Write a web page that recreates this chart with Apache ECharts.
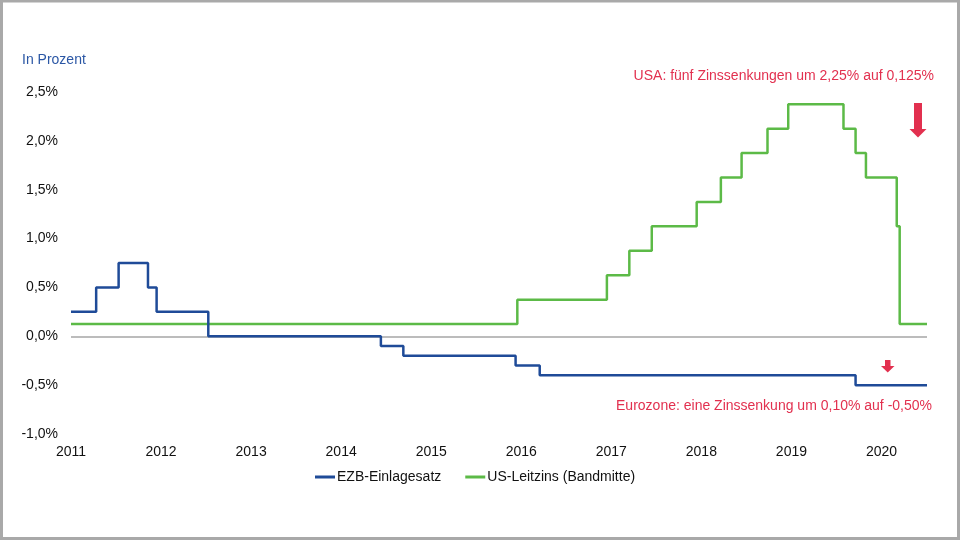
<!DOCTYPE html>
<html>
<head>
<meta charset="utf-8">
<script src="https://cdn.jsdelivr.net/npm/echarts@6/dist/echarts.min.js"></script>
<style>
html,body{margin:0;padding:0;background:#fff;}
#c{width:960px;height:540px;}
</style>
</head>
<body>
<div id="c"></div>
<script>
// ---- data ----
const ezbDates = ['2011-01-01','2011-04-13','2011-07-13','2011-11-09','2011-12-14','2012-07-11','2014-06-11','2014-09-10','2015-12-09','2016-03-16','2019-09-18','2020-07-04'];
const ezbValues = [0.25, 0.5, 0.75, 0.5, 0.25, 0, -0.1, -0.2, -0.3, -0.4, -0.5, -0.5];
const usDates = ['2011-01-01','2015-12-16','2016-12-14','2017-03-15','2017-06-14','2017-12-13','2018-03-21','2018-06-13','2018-09-26','2018-12-19','2019-07-31','2019-09-18','2019-10-30','2020-03-03','2020-03-15','2020-07-04'];
const usValues = [0.125, 0.375, 0.625, 0.875, 1.125, 1.375, 1.625, 1.875, 2.125, 2.375, 2.125, 1.875, 1.625, 1.125, 0.125, 0.125];
const seriesNames = ['EZB-Einlagesatz', 'US-Leitzins (Bandmitte)'];
const xStart = '2011-01-01';
const xEnd = '2020-07-04';
const yTicks = [-1.0, -0.5, 0.0, 0.5, 1.0, 1.5, 2.0, 2.5];
const axisTitle = 'In Prozent';
const noteUS = 'USA: fünf Zinssenkungen um 2,25% auf 0,125%';
const noteEZ = 'Eurozone: eine Zinssenkung um 0,10% auf -0,50%';

function toYear(d) {
  const p = d.split('-').map(Number);
  const s = Date.UTC(p[0], 0, 1), e = Date.UTC(p[0] + 1, 0, 1);
  return p[0] + (Date.UTC(p[0], p[1] - 1, p[2]) - s) / (e - s);
}
const ezbData = ezbDates.map((d, i) => [toYear(d), ezbValues[i]]);
const usData = usDates.map((d, i) => [toYear(d), usValues[i]]);

const FONT = '"Liberation Sans", Arial, sans-serif';
const RED = '#e2304f';
const TXT = '#111111';
const chart = echarts.init(document.getElementById('c'), null, {renderer: 'canvas'});
chart.setOption({
  animation: false,
  backgroundColor: '#fff',
  textStyle: {fontFamily: FONT},
  grid: {left: 71, right: 33, top: 92, bottom: 106, containLabel: false},
  xAxis: {
    type: 'value',
    min: toYear(xStart),
    max: toYear(xEnd),
    interval: 1,
    axisLine: {show: false},
    axisTick: {show: false},
    splitLine: {show: false},
    axisLabel: {
      color: TXT, fontSize: 14, fontFamily: FONT, margin: 11,
      formatter: v => (Math.abs(v - Math.round(v)) < 1e-9 ? String(Math.round(v)) : '')
    }
  },
  yAxis: {
    type: 'value',
    min: yTicks[0],
    max: yTicks[yTicks.length - 1],
    interval: 0.5,
    axisLine: {show: false},
    axisTick: {show: false},
    splitLine: {show: false},
    axisLabel: {
      color: TXT, fontSize: 14, fontFamily: FONT, margin: 13,
      formatter: v => v.toFixed(1).replace('.', ',') + '%'
    }
  },
  legend: {
    left: 310, top: 465,
    icon: 'rect', itemWidth: 20, itemHeight: 3, itemGap: 24,
    textStyle: {color: TXT, fontSize: 14, fontFamily: FONT, padding: [0, 0, 0, -3]},
    data: seriesNames
  },
  series: [
    {
      name: seriesNames[0], type: 'line', step: 'end', data: ezbData,
      showSymbol: false, symbol: 'none',
      lineStyle: {color: '#1f4b98', width: 2.5},
      itemStyle: {color: '#1f4b98'},
      z: 3,
      markLine: {
        silent: true, symbol: 'none', label: {show: false},
        lineStyle: {color: '#a6a6a6', width: 1.5, type: 'solid'},
        data: [{yAxis: 0}],
        z: 1
      }
    },
    {
      name: seriesNames[1], type: 'line', step: 'end', data: usData,
      showSymbol: false, symbol: 'none',
      lineStyle: {color: '#5cba47', width: 2.5},
      itemStyle: {color: '#5cba47'},
      z: 2
    }
  ],
  graphic: [
    {type: 'rect', shape: {x: 1.5, y: 1, width: 957, height: 537.5}, style: {fill: 'none', stroke: '#a9a9a9', lineWidth: 3}, silent: true},
    {type: 'text', left: 22, top: 53, style: {text: axisTitle, fill: '#2b57a5', font: '14px ' + FONT}},
    {type: 'text', x: 934, y: 76, style: {text: noteUS, fill: RED, font: '14px ' + FONT, align: 'right', verticalAlign: 'middle'}},
    {type: 'text', x: 932, y: 406, style: {text: noteEZ, fill: RED, font: '14px ' + FONT, align: 'right', verticalAlign: 'middle'}},
    {type: 'rect', shape: {x: 914, y: 103, width: 8, height: 27}, style: {fill: RED}},
    {type: 'polygon', shape: {points: [[909.5, 129], [926.5, 129], [918, 137.5]]}, style: {fill: RED}},
    {type: 'rect', shape: {x: 885, y: 360, width: 5.5, height: 6.5}, style: {fill: RED}},
    {type: 'polygon', shape: {points: [[881, 366], [894.5, 366], [887.75, 372.5]]}, style: {fill: RED}}
  ]
});
</script>
</body>
</html>
